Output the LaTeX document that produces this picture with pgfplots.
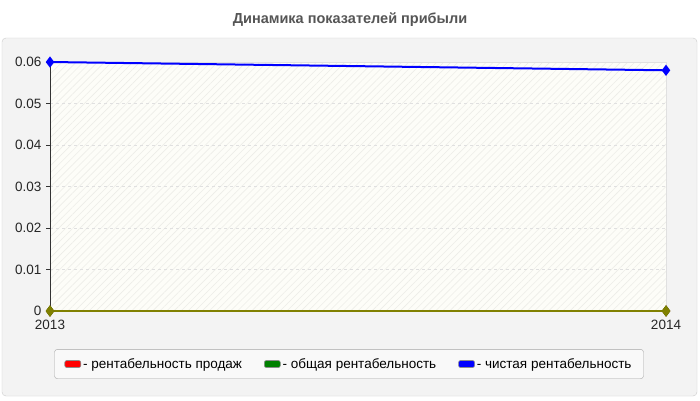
\documentclass[border=0pt]{standalone}
\usepackage{fontspec}
\setmainfont{Liberation Sans}
\usepackage{pgfplots}
\pgfplotsset{compat=1.18}
\usetikzlibrary{patterns.meta}
\definecolor{panel}{HTML}{F3F3F3}
\definecolor{panelborder}{HTML}{CCCCCC}
\definecolor{plotbg}{HTML}{FDFDF8}
\definecolor{hatch}{HTML}{EDEDE8}
\definecolor{titlec}{HTML}{555555}
\definecolor{legfill}{HTML}{F9F9F9}
\definecolor{olivec}{HTML}{808000}
\definecolor{greenc}{HTML}{008000}
\begin{document}
\begin{tikzpicture}[x=1pt,y=1pt]
\path[use as bounding box, fill=white] (0,0) rectangle (700,400);
\fill[panel, draw=panelborder, rounded corners=4pt] (2,4) rectangle (697,362);
\node[font=\bfseries\fontsize{14.5}{16}\selectfont, text=titlec] at (350,380) {Динамика показателей прибыли};
\begin{axis}[
  at={(50pt,89pt)}, anchor=south west,
  scale only axis, width=616pt, height=249pt,
  xmin=2013, xmax=2014, ymin=0, ymax=0.06,
  xtick={2013,2014}, xticklabels={2013,2014},
  ytick={0,0.01,0.02,0.03,0.04,0.05,0.06},
  yticklabels={0,0.01,0.02,0.03,0.04,0.05,0.06},
  scaled y ticks=false,
  xtick pos=bottom, ytick pos=left,
  tick label style={font=\fontsize{13.5}{15}\selectfont, text=black!85},
  /pgf/number format/assume math mode=true,
  axis line style={draw=black!12},
  ymajorgrids, major grid style={dashed, draw=black!12},
  ytick style={draw=black!80}, xtick style={draw=black!80},
  tick align=outside, major tick length=4pt,
  xticklabel style={yshift=-1.5pt},
  yticklabel style={xshift=-1pt},
  clip=false,
  axis background/.style={fill=plotbg, postaction={pattern={Lines[angle=45,distance=5pt,line width=0.6pt]}, pattern color=hatch}},
  legend columns=3,
  legend cell align=left,
  legend style={at={(0.4854,-0.2129)}, anchor=center, draw=black!35, fill=legfill, rounded corners=3pt,
     font=\fontsize{13.5}{15}\selectfont, inner xsep=10pt, inner ysep=7pt,
     /tikz/every even column/.append style={column sep=20pt}},
]
\addplot[red, line width=2pt, mark=diamond*, mark size=4pt,
  legend image code/.code={\draw[fill=red, draw=black!45, rounded corners=2pt, line width=0.6pt] (0pt,-3.5pt) rectangle (16pt,3.5pt);}]
  coordinates {(2013,0) (2014,0)};
\addlegendentry{- рентабельность продаж}
\addplot[greenc, line width=2pt, mark=diamond*, mark size=4pt,
  legend image code/.code={\draw[fill=greenc, draw=black!45, rounded corners=2pt, line width=0.6pt] (0pt,-3.5pt) rectangle (16pt,3.5pt);}]
  coordinates {(2013,0) (2014,0)};
\addlegendentry{- общая рентабельность}
\addplot[blue, line width=2pt, mark=diamond*, mark size=4pt,
  legend image code/.code={\draw[fill=blue, draw=black!45, rounded corners=2pt, line width=0.6pt] (0pt,-3.5pt) rectangle (16pt,3.5pt);}]
  coordinates {(2013,0.06) (2014,0.058)};
\addlegendentry{- чистая рентабельность}
\addplot[olivec, line width=2pt, mark=diamond*, mark size=4pt, forget plot]
  coordinates {(2013,0) (2014,0)};
\draw[black!80, line width=0.8pt] (rel axis cs:0,0) -- (rel axis cs:0,1);
\end{axis}
\end{tikzpicture}
\end{document}
